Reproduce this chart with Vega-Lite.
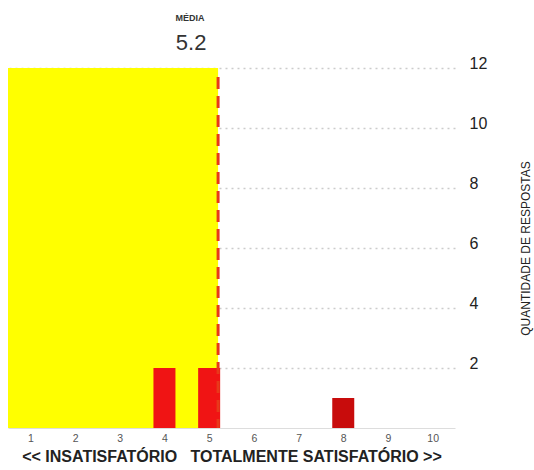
{
  "$schema": "https://vega.github.io/schema/vega-lite/v6.json",
  "width": 447,
  "height": 360,
  "autosize": {"type": "none"},
  "padding": {"left": 8, "top": 68, "right": 79, "bottom": 42},
  "background": "white",
  "config": {"view": {"stroke": null}, "font": "Liberation Sans"},
  "datasets": {
    "respostas": [
      {"nota": 1, "quantidade": 0},
      {"nota": 2, "quantidade": 0},
      {"nota": 3, "quantidade": 0},
      {"nota": 4, "quantidade": 2},
      {"nota": 5, "quantidade": 2},
      {"nota": 6, "quantidade": 0},
      {"nota": 7, "quantidade": 0},
      {"nota": 8, "quantidade": 1},
      {"nota": 9, "quantidade": 0},
      {"nota": 10, "quantidade": 0}
    ],
    "media": [{"media": 5.2, "rotulo": "MÉDIA", "valor": "5.2"}]
  },
  "layer": [
    {
      "data": {"name": "media"},
      "mark": {"type": "rect", "color": "#ffff00"},
      "encoding": {
        "x": {"field": "media", "type": "quantitative", "scale": {"domain": [0.5, 10.5], "nice": false, "zero": false, "padding": 0},
          "axis": {"values": [1,2,3,4,5,6,7,8,9,10], "grid": false, "ticks": false, "domain": true, "domainColor": "#dddddd",
            "labelFontSize": 10.5, "labelColor": "#555555", "labelPadding": 5,
            "title": "<< INSATISFATÓRIO \u00a0 TOTALMENTE SATISFATÓRIO >>", "titleFont": "Liberation Sans", "titleFontSize": 16, "titleFontWeight": "bold", "titleColor": "#222222", "titlePadding": 5}},
        "x2": {"datum": 0.5},
        "y": {"datum": 12, "type": "quantitative", "scale": {"domain": [0, 12], "nice": false, "padding": 0},
          "axis": {"orient": "right", "values": [2,4,6,8,10,12], "grid": true, "gridColor": "#cccccc", "gridDash": [2, 4], "gridWidth": 1.5,
            "ticks": false, "domain": false, "labelFontSize": 16, "labelColor": "#222222", "labelPadding": 14, "labelOffset": -5,
            "title": "QUANTIDADE DE RESPOSTAS", "titleAngle": 270, "titleFontSize": 12, "titleFontWeight": "normal", "titleColor": "#222222", "titlePadding": 46}},
        "y2": {"datum": 0}
      }
    },
    {
      "data": {"name": "respostas"},
      "mark": {"type": "bar", "size": 22},
      "encoding": {
        "x": {"field": "nota", "type": "quantitative"},
        "y": {"field": "quantidade", "type": "quantitative"},
        "color": {"condition": {"test": "datum.nota < 5.2", "value": "#f01414"}, "value": "#c80c0c"}
      }
    },
    {
      "data": {"name": "media"},
      "mark": {"type": "rule", "color": "#e8381a", "strokeWidth": 3, "strokeDash": [12, 7]},
      "encoding": {
        "x": {"field": "media", "type": "quantitative"},
        "y": {"datum": 11.7, "type": "quantitative"},
        "y2": {"datum": 0}
      }
    },
    {
      "data": {"name": "media"},
      "mark": {"type": "text", "fontSize": 22, "color": "#333333", "align": "center", "baseline": "bottom", "dx": -27, "dy": -13},
      "encoding": {
        "x": {"field": "media", "type": "quantitative"},
        "y": {"datum": 12, "type": "quantitative"},
        "text": {"field": "valor", "type": "nominal"}
      }
    },
    {
      "data": {"name": "media"},
      "mark": {"type": "text", "fontSize": 9, "fontWeight": "bold", "color": "#333333", "align": "center", "baseline": "bottom", "dx": -28, "dy": -45},
      "encoding": {
        "x": {"field": "media", "type": "quantitative"},
        "y": {"datum": 12, "type": "quantitative"},
        "text": {"field": "rotulo", "type": "nominal"}
      }
    }
  ]
}
